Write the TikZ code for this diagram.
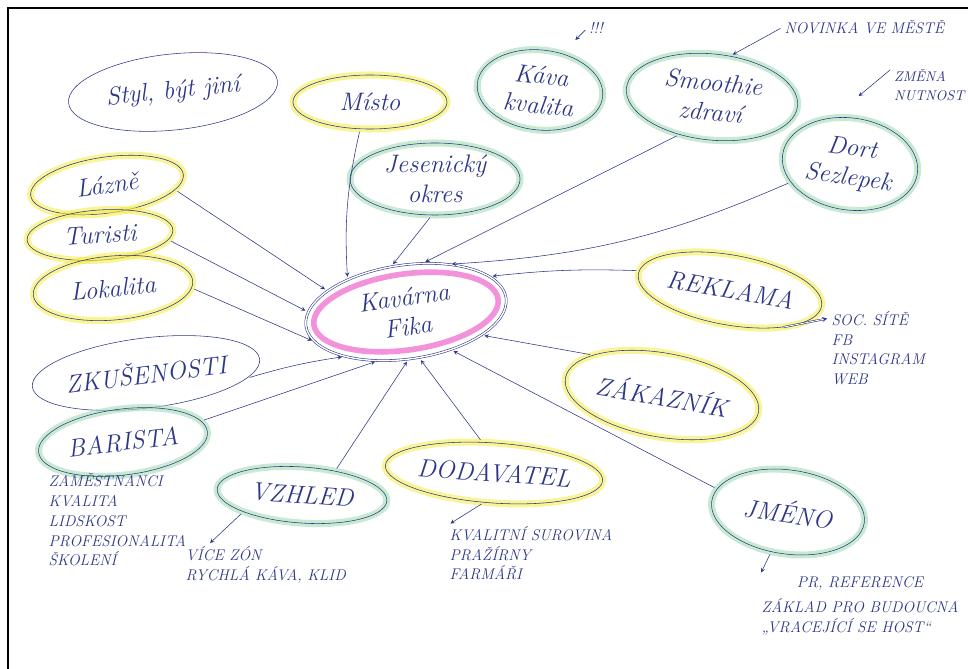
\documentclass[tikz,border=0pt]{standalone}
\usepackage{fontspec}
\usepackage{tikz}
\usetikzlibrary{shapes.geometric}
\definecolor{pen}{RGB}{45,55,135}
\definecolor{hlyellow}{RGB}{245,236,80}
\definecolor{hlgreen}{RGB}{165,220,180}
\definecolor{hlpink}{RGB}{236,110,205}
\tikzset{
  bubble/.style={ellipse, draw=pen, inner sep=0pt, text=pen, align=center,
    font=\fontsize{18}{21}\selectfont\itshape},
  hl/.style={preaction={draw=#1, line width=5pt, opacity=.6}},
  note/.style={text=pen, align=left, inner sep=1pt,
    font=\fontsize{11}{14}\selectfont\itshape},
  link/.style={draw=pen, -stealth, shorten >=2pt, shorten <=2pt}
}

\begin{document}
\begin{tikzpicture}[x=0.025cm, y=-0.025cm]
\useasboundingbox (0,0) rectangle (968,669);
\draw[line width=1.2pt] (8,669) -- (8,8) -- (968,8);
% centre
\draw (406,312) node[bubble, rotate=8, minimum width=5.05cm, minimum height=2.35cm, double, double distance=1pt] (fika) {Kavárna\\Fika};
\draw[hlpink, line width=4pt, opacity=.75, rotate around={8:(406,312)}] (406,312) ellipse [x radius=93, y radius=38];
% left side
\draw (173,92) node[bubble, rotate=6, minimum width=5.25cm, minimum height=1.9cm] (styl) {Styl, být jiní}
(370,102) node[bubble, hl=hlyellow, minimum width=3.85cm, minimum height=1.35cm] (misto) {Místo}
(107,185) node[bubble, hl=hlyellow, rotate=8, minimum width=3.85cm, minimum height=1.4cm] (lazne) {Lázně}
(100,235) node[bubble, hl=hlyellow, rotate=4, minimum width=3.65cm, minimum height=1.25cm] (turisti) {Turisti}
(113,288) node[bubble, hl=hlyellow, rotate=5, minimum width=4cm, minimum height=1.6cm] (lokalita) {Lokalita}
(146,373) node[bubble, rotate=7, minimum width=5.05cm, minimum height=1.75cm] (zkusenosti) {ZKUŠENOSTI}
(123,442) node[bubble, hl=hlgreen, rotate=7, minimum width=4.25cm, minimum height=1.65cm] (barista) {BARISTA}
(302,495) node[bubble, hl=hlgreen, rotate=-4, minimum width=4.25cm, minimum height=1.4cm] (vzhled) {VZHLED};
% top
\draw (435,179) node[bubble, hl=hlgreen, minimum width=4.25cm, minimum height=1.8cm] (okres) {Jesenický\\okres}
(540,90) node[bubble, hl=hlgreen, rotate=-6, minimum width=3.15cm, minimum height=2cm] (kava) {Káva\\kvalita}
(712,97) node[bubble, hl=hlgreen, rotate=-6, minimum width=4.3cm, minimum height=2.15cm] (smoothie) {Smoothie\\zdraví}
(850,164) node[bubble, hl=hlgreen, rotate=-8, minimum width=3.4cm, minimum height=2.3cm] (dort) {Dort\\Sezlepek};
% right and bottom
\draw (730,290) node[bubble, hl=hlyellow, rotate=-10, minimum width=4.65cm, minimum height=1.75cm] (reklama) {REKLAMA}
(662,395) node[bubble, hl=hlyellow, rotate=-10, minimum width=4.9cm, minimum height=2.1cm] (zakaznik) {ZÁKAZNÍK}
(494,473) node[bubble, hl=hlyellow, rotate=-4, minimum width=4.2cm, minimum height=1.5cm] (dodavatel) {DODAVATEL}
(788,512) node[bubble, hl=hlgreen, rotate=-8, minimum width=3.85cm, minimum height=2.1cm] (jmeno) {JMÉNO};
% notes
\node[note] (vykricnik) at (596,28) {!!!};
\node[note, anchor=west] (novinka) at (783,27) {NOVINKA VE MĚSTĚ};
\node[note, anchor=east, font=\fontsize{10}{13}\selectfont\itshape] (zmena) at (966,85) {ZMĚNA\\NUTNOST};
\node[note, anchor=north west] (site) at (830,310) {SOC. SÍTĚ\\FB\\INSTAGRAM\\WEB};
\node[note, anchor=north west] (lidi) at (47,472) {ZAMĚSTNANCI\\KVALITA\\LIDSKOST\\PROFESIONALITA\\ŠKOLENÍ};
\node[note, anchor=north west] (zony) at (184,545) {VÍCE ZÓN\\RYCHLÁ KÁVA, KLID};
\node[note, anchor=north west] (surovina) at (448,525) {KVALITNÍ SUROVINA\\PRAŽÍRNY\\FARMÁŘI};
\node[note, anchor=north west] (reference) at (760,575) {\hspace*{25pt}PR, REFERENCE\\[4pt]ZÁKLAD PRO BUDOUCNA\\„VRACEJÍCÍ SE HOST“};
% arrows into the centre
\draw[link] (misto.250) to[bend right=8] (fika.143);
\draw[link] (okres.265) -- (fika.100);
\draw[link] (smoothie.235) -- (fika.63);
\draw[link] (dort.205) to[bend left=10] (fika.40);
\draw[link] (reklama.178) to[bend right=4] (fika.15);
\draw[link] (lazne.-12) -- (fika.157);
\draw[link] (turisti.-8) -- (fika.172);
\draw[link] (lokalita.-5) -- (fika.190);
\draw[link] (zkusenosti.-10) to[bend left=4] (fika.208);
\draw[link] (barista.8) -- (fika.232);
\draw[link] (vzhled.40) -- (fika.265);
\draw[link] (dodavatel.115) -- (fika.278);
\draw[link] (zakaznik.160) -- (fika.335);
\draw[link] (jmeno.170) -- (fika.312);
% small pointers
\draw[link, shorten >=0pt] (vykricnik.west) -- ++(-12,12) coordinate (p1);
\draw[link] (novinka.west) -- (smoothie.72);
\draw[link] (zmena.north west) -- ++(-36,30) coordinate (p2);
\draw[link, double, shorten <=0pt] (reklama.-25) -- ([yshift=-0.2cm]site.north west);
\draw[link] (vzhled.200) -- ([xshift=0.6cm]zony.north west);
\draw[link] (dodavatel.255) -- (surovina.north west);
\draw[link] (jmeno.255) -- (reference.north west);
\end{tikzpicture}
\end{document}
